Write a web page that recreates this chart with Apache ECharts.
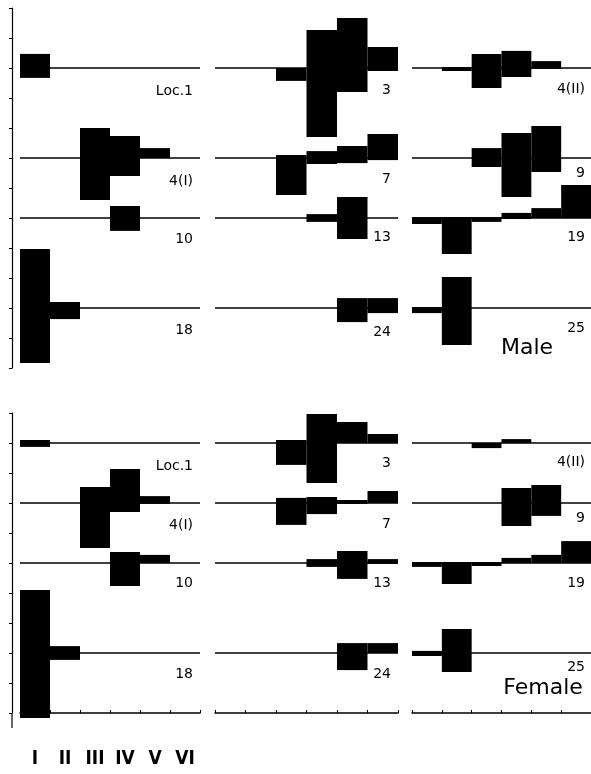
<!DOCTYPE html>
<html>
<head>
<meta charset="utf-8">
<script src="https://cdn.jsdelivr.net/npm/echarts@6/dist/echarts.min.js"></script>
<style>
html,body{margin:0;padding:0;background:#fff;}
#c{width:591px;height:774px;}
</style>
</head>
<body>
<div id="c"></div>
<script>
// ---------------- DATA ----------------
const classes = ['I', 'II', 'III', 'IV', 'V', 'VI'];
const sites = [
  ['Loc.1', '4(I)', '10', '18'],
  ['3', '7', '13', '24'],
  ['4(II)', '9', '19', '25']
];
// baselines of the rows (axis units, 10 per tick)
const maleBase = [100, 70, 50, 20];
const femaleBase = [90, 70, 50, 20];
const maleYMax = 120;
const femaleYMax = 100;
const yInterval = 10;

// values above the baseline, per column, per row, per class I..VI
const maleUp = [
  [[4.7, 0, 0, 0, 0, 0], [0, 0, 10, 7.3, 3.3, 0], [0, 0, 0, 4, 0, 0], [19.7, 2, 0, 0, 0, 0]],
  [[0, 0, 0, 12.7, 16.7, 7], [0, 0, 1, 2.3, 4, 8], [0, 0, 0, 1.3, 7, 0], [0, 0, 0, 0, 3.3, 3.3]],
  [[0, 0.3, 4.7, 5.7, 2.3, 0], [0, 0, 3.3, 8.3, 10.7, 0], [0.3, 0.3, 0.3, 1.7, 3.3, 11], [0.3, 10.3, 0, 0, 0, 0]]
];
// values below the baseline
const maleDown = [
  [[3.3, 0, 0, 0, 0, 0], [0, 0, 14, 6, 0, 0], [0, 0, 0, 4.3, 0, 0], [18.3, 3.7, 0, 0, 0, 0]],
  [[0, 0, 4.3, 23, 8, 1], [0, 0, 12.3, 2, 1.7, 0.7], [0, 0, 0, 1.3, 7, 0], [0, 0, 0, 0, 4.7, 1.7]],
  [[0, 1, 6.7, 3, 0.3, 0], [0, 0, 3, 13, 4.7, 0], [2, 12, 1.3, 0.3, 0, 0], [1.7, 12.3, 0, 0, 0, 0]]
];
const femaleUp = [
  [[1, 0, 0, 0, 0, 0], [0, 0, 5.3, 11.3, 2.3, 0], [0, 0, 0, 3.7, 2.7, 0], [21, 2.3, 0, 0, 0, 0]],
  [[0, 0, 1, 9.7, 7, 3], [0, 0, 1.7, 2, 1, 4], [0, 0, 0, 1.3, 4, 1.3], [0, 0, 0, 0, 3.3, 3.3]],
  [[0, 0, 0, 1.3, 0, 0], [0, 0, 0, 5, 6, 0], [0.3, 0.3, 0.3, 1.7, 2.7, 7.3], [0.7, 8, 0, 0, 0, 0]]
];
const femaleDown = [
  [[1.3, 0, 0, 0, 0, 0], [0, 0, 15, 3, 0.3, 0], [0, 0, 0, 7.7, 0, 0], [21.7, 2.3, 0, 0, 0, 0]],
  [[0, 0, 7.3, 13.3, 0, 0], [0, 0, 7.3, 3.7, 0.3, 0], [0, 0, 0, 1.3, 5.3, 0.3], [0, 0, 0, 0, 5.7, 0]],
  [[0, 0, 1.7, 0, 0, 0], [0, 0, 0, 7.7, 4.3, 0], [1.3, 7, 1, 0, 0, 0], [1, 6.3, 0, 0, 0, 0]]
];
const panelTitles = ['Male', 'Female'];

// ---------------- LAYOUT ----------------
const colLeft = [20, 215, 412];
const colWidth = [180, 183, 180];
const panelTop = [8, 413];
const panelHeight = [360, 300];
const labelDy = [
  [[23, 23, 21, 22], [22, 21, 19, 24], [21, 15, 19, 20]],
  [[23, 22, 20, 21], [20, 21, 20, 21], [19, 15, 20, 14]]
];
const FONT = 'DejaVu Sans';

const chart = echarts.init(document.getElementById('c'), null, {renderer: 'canvas'});

const grids = [], xAxes = [], yAxes = [], series = [];
const panels = [
  {base: maleBase, up: maleUp, down: maleDown, max: maleYMax},
  {base: femaleBase, up: femaleUp, down: femaleDown, max: femaleYMax}
];

panels.forEach((p, pi) => {
  for (let c = 0; c < 3; c++) {
    const gi = grids.length;
    grids.push({left: colLeft[c], top: panelTop[pi], width: colWidth[c], height: panelHeight[pi], containLabel: false});
    xAxes.push({
      type: 'category', gridIndex: gi, data: classes, boundaryGap: true,
      show: pi === 1,
      offset: 30,
      axisLine: {show: true, lineStyle: {color: '#000', width: 1.5}},
      axisTick: {show: true, inside: true, length: 3, lineStyle: {color: '#000', width: 1}},
      axisLabel: {show: c === 0, margin: 7, color: '#000', fontSize: 19, fontWeight: 'bold',
        fontFamily: 'DejaVu Sans Condensed'},
      splitLine: {show: false}
    });
    yAxes.push({
      type: 'value', gridIndex: gi, min: 0, max: p.max, interval: yInterval,
      show: c === 0,
      offset: 8,
      axisLine: {show: true, lineStyle: {color: '#000', width: 1.2}},
      axisTick: {show: true, inside: false, length: 3, lineStyle: {color: '#000', width: 1}},
      axisLabel: {show: false},
      splitLine: {show: false}
    });
    const data = [];
    for (let r = 0; r < 4; r++) {
      for (let k = 0; k < classes.length; k++) {
        const u = p.up[c][r][k], d = p.down[c][r][k];
        if (u + d > 0) data.push([k, p.base[r], u, d]);
      }
    }
    series.push({
      type: 'custom', xAxisIndex: gi, yAxisIndex: gi,
      encode: {x: 0, y: 1},
      silent: true,
      clip: false,
      renderItem: function (params, api) {
        const k = api.value(0), b = api.value(1), u = api.value(2), d = api.value(3);
        const top = api.coord([k, b + u]);
        const bot = api.coord([k, b - d]);
        const w = api.size([1, 0])[0];
        return {type: 'rect', shape: {x: top[0] - w / 2, y: top[1], width: w, height: Math.max(1, bot[1] - top[1])},
          style: {fill: '#000'}};
      },
      data: data,
      markLine: {
        silent: true, symbol: 'none', animation: false,
        label: {show: false},
        lineStyle: {color: '#000', width: 1.5, type: 'solid'},
        data: p.base.map(b => ({yAxis: b}))
      },
      z: 2
    });
  }
});

chart.setOption({
  animation: false,
  backgroundColor: '#fff',
  grid: grids, xAxis: xAxes, yAxis: yAxes, series: series
});

// Site labels and panel titles, placed from the axes' own scales
const graphics = [];
panels.forEach((p, pi) => {
  for (let c = 0; c < 3; c++) {
    const gi = pi * 3 + c;
    for (let r = 0; r < 4; r++) {
      const y = chart.convertToPixel({yAxisIndex: gi}, p.base[r]);
      graphics.push({
        type: 'text',
        x: colLeft[c] + colWidth[c] - 7, y: y + labelDy[pi][c][r],
        style: {text: sites[c][r], font: '14px "' + FONT + '"', fill: '#000', align: 'right', verticalAlign: 'middle'}
      });
    }
  }
});
const yMaleBottom = chart.convertToPixel({yAxisIndex: 2}, 0);
const yFemaleBottom = chart.convertToPixel({yAxisIndex: 5}, 0);
graphics.push({type: 'text', x: 527, y: yMaleBottom - 20,
  style: {text: panelTitles[0], font: '22px "' + FONT + '"', fill: '#000', align: 'center', verticalAlign: 'middle'}});
graphics.push({type: 'text', x: 543, y: yFemaleBottom - 25,
  style: {text: panelTitles[1], font: '22px "' + FONT + '"', fill: '#000', align: 'center', verticalAlign: 'middle'}});
// short extension of the female vertical axis below its last tick
graphics.push({type: 'line', shape: {x1: 12, y1: yFemaleBottom, x2: 12, y2: yFemaleBottom + 15},
  style: {stroke: '#000', lineWidth: 1.2}});
chart.setOption({graphic: graphics});
</script>
</body>
</html>
